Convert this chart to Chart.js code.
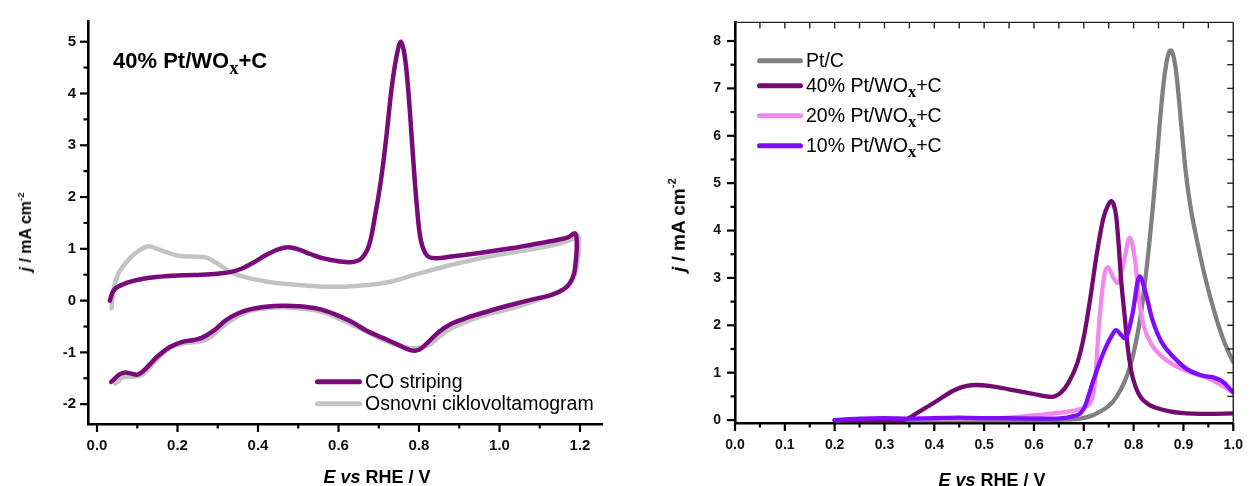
<!DOCTYPE html>
<html>
<head>
<meta charset="utf-8">
<script src="https://cdn.jsdelivr.net/npm/chart.js@4.4.1/dist/chart.umd.min.js"></script>
<style>
html,body{margin:0;padding:0;background:#fff;}
body{width:1257px;height:486px;position:relative;overflow:hidden;font-family:'Liberation Sans',Arial,sans-serif;color:#000;}
.box{position:absolute;top:0;height:486px;}
#leftBox{left:0;width:630px;}
#rightBox{left:630px;width:627px;}
.ytitle{position:absolute;font-weight:bold;white-space:nowrap;line-height:1;transform:translate(-50%,-50%) rotate(-90deg);}
.xtitle{position:absolute;font-weight:bold;font-size:18px;white-space:nowrap;line-height:1;transform:translate(-50%,-50%);}
.ytitle sup{font-size:0.6em;vertical-align:0.75em;}
.note{position:absolute;font-weight:bold;font-size:22px;white-space:nowrap;line-height:1;}
.note sub,.lg sub{font-family:'Liberation Serif',serif;font-weight:bold;font-size:0.85em;vertical-align:baseline;position:relative;top:0.3em;}
.lg{position:absolute;display:flex;align-items:center;white-space:nowrap;font-size:19.5px;line-height:1;transform:translateY(-50%);}
.sw{height:5px;border-radius:2.5px;margin-right:3px;}
</style>
</head>
<body>
<div id="leftBox" class="box"><canvas id="cLeft"></canvas></div>
<div id="rightBox" class="box"><canvas id="cRight"></canvas></div>

<div class="note" style="left:113px;top:50px;">40% Pt/WO<sub>x</sub>+C</div>

<div class="ytitle" style="left:25px;top:232px;font-size:16px;"><i>j</i> / mA cm<sup>-2</sup></div>
<div class="xtitle" style="left:377px;top:477px;"><i>E vs</i> RHE / V</div>
<div class="ytitle" style="left:677px;top:225px;font-size:19px;"><i>j</i> / mA cm<sup>-2</sup></div>
<div class="xtitle" style="left:992px;top:480px;"><i>E vs</i> RHE / V</div>

<div id="legends"></div>

<script>
// ---------------- data: left panel (CV, 40% Pt/WOx+C) ----------------
const CO_E = [0.032,0.038,0.045,0.06,0.09,0.13,0.17,0.22,0.26,0.30,0.33,0.36,0.39,0.42,0.45,0.475,0.50,0.53,0.56,0.60,0.63,0.655,0.675,0.69,0.705,0.718,0.732,0.745,0.755,0.765,0.775,0.785,0.795,0.805,0.82,0.84,0.88,0.95,1.02,1.08,1.13,1.17,1.188,1.192,1.19,1.185,1.175,1.16,1.13,1.08,1.02,0.97,0.92,0.877,0.85,0.82,0.80,0.78,0.75,0.71,0.67,0.63,0.59,0.55,0.50,0.46,0.42,0.38,0.35,0.32,0.29,0.26,0.24,0.21,0.18,0.15,0.13,0.115,0.10,0.085,0.07,0.055,0.045,0.035];
const CO_J = [0.0,0.15,0.23,0.30,0.38,0.44,0.47,0.49,0.50,0.52,0.55,0.62,0.74,0.88,0.99,1.03,0.99,0.90,0.82,0.76,0.74,0.80,1.05,1.60,2.30,3.10,4.10,4.75,5.00,4.70,3.90,2.80,1.80,1.15,0.87,0.82,0.85,0.92,1.00,1.08,1.15,1.22,1.30,1.10,0.80,0.52,0.34,0.22,0.11,0.02,-0.10,-0.21,-0.33,-0.46,-0.60,-0.82,-0.95,-0.96,-0.86,-0.72,-0.58,-0.40,-0.26,-0.16,-0.11,-0.10,-0.12,-0.17,-0.25,-0.38,-0.58,-0.72,-0.76,-0.80,-0.90,-1.08,-1.24,-1.36,-1.43,-1.41,-1.39,-1.43,-1.50,-1.57];
const CV_E = [0.036,0.04,0.045,0.055,0.074,0.09,0.107,0.127,0.15,0.174,0.206,0.24,0.273,0.29,0.31,0.34,0.38,0.42,0.47,0.52,0.57,0.62,0.67,0.72,0.76,0.80,0.86,0.92,0.98,1.04,1.10,1.15,1.18,1.195,1.197,1.193,1.185,1.165,1.13,1.083,1.03,0.97,0.92,0.877,0.85,0.82,0.785,0.753,0.71,0.67,0.63,0.587,0.55,0.50,0.46,0.42,0.38,0.35,0.32,0.29,0.27,0.245,0.22,0.19,0.174,0.15,0.13,0.115,0.107,0.09,0.074,0.06,0.052,0.045];
const CV_J = [-0.15,0.15,0.35,0.55,0.75,0.88,0.98,1.05,1.00,0.93,0.86,0.85,0.83,0.76,0.66,0.52,0.43,0.37,0.32,0.29,0.27,0.27,0.30,0.35,0.43,0.52,0.65,0.76,0.86,0.94,1.02,1.10,1.18,1.25,1.00,0.70,0.45,0.25,0.12,-0.02,-0.15,-0.27,-0.40,-0.55,-0.70,-0.87,-0.92,-0.88,-0.75,-0.60,-0.45,-0.30,-0.20,-0.15,-0.13,-0.15,-0.20,-0.30,-0.45,-0.65,-0.76,-0.80,-0.82,-0.88,-0.95,-1.12,-1.30,-1.42,-1.45,-1.47,-1.47,-1.50,-1.57,-1.60];
const LEFT_NAMES = ['CO striping','Osnovni ciklovoltamogram'];
const LEFT_COLORS = ['#7a0a7a','#c3c3c3'];
const LEFT_X_TICKS = [0.0,0.2,0.4,0.6,0.8,1.0,1.2];
const LEFT_X_MINOR = [0.1,0.3,0.5,0.7,0.9,1.1];
const LEFT_Y_TICKS = [-2,-1,0,1,2,3,4,5];
const LEFT_Y_MINOR = [-1.5,-0.5,0.5,1.5,2.5,3.5,4.5];

// ---------------- data: right panel (CO stripping comparison) ----------------
const PTC_E = [0.20,0.45,0.55,0.62,0.66,0.693,0.726,0.765,0.794,0.814,0.83,0.842,0.852,0.86,0.866,0.871,0.875,0.88,0.886,0.895,0.905,0.915,0.93,0.945,0.963,0.98,1.0];
const PTC_J = [0.0,0.0,0.0,0.0,0.01,0.03,0.14,0.48,1.17,2.20,3.58,4.90,6.20,7.10,7.55,7.76,7.80,7.68,7.30,6.30,5.20,4.45,3.65,2.95,2.25,1.70,1.22];
const W40_E = [0.20,0.30,0.336,0.37,0.40,0.44,0.465,0.485,0.51,0.55,0.60,0.635,0.654,0.67,0.687,0.70,0.712,0.726,0.739,0.748,0.755,0.76,0.765,0.77,0.775,0.782,0.788,0.795,0.804,0.815,0.83,0.845,0.87,0.895,0.95,1.0];
const W40_J = [0.0,0.0,0.0,0.18,0.37,0.63,0.72,0.74,0.72,0.65,0.55,0.49,0.58,0.80,1.20,1.75,2.50,3.50,4.25,4.52,4.62,4.55,4.30,3.70,2.95,2.20,1.55,1.05,0.70,0.47,0.33,0.26,0.19,0.15,0.13,0.14];
const W20_E = [0.20,0.30,0.40,0.50,0.55,0.60,0.65,0.68,0.70,0.72,0.732,0.742,0.749,0.758,0.768,0.781,0.792,0.803,0.811,0.82,0.837,0.869,0.908,0.947,0.973,1.0];
const W20_J = [0.0,0.02,0.03,0.04,0.05,0.10,0.15,0.20,0.26,0.59,2.20,3.10,3.22,3.03,2.89,3.37,3.85,3.37,2.55,2.00,1.58,1.24,1.03,0.90,0.76,0.58];
const W10_E = [0.20,0.25,0.30,0.35,0.40,0.45,0.50,0.55,0.60,0.635,0.674,0.70,0.72,0.739,0.755,0.765,0.773,0.783,0.797,0.812,0.824,0.837,0.856,0.882,0.908,0.941,0.96,0.98,1.0];
const W10_J = [0.0,0.03,0.04,0.03,0.04,0.05,0.04,0.04,0.03,0.03,0.07,0.24,0.86,1.41,1.76,1.90,1.82,1.72,2.20,3.03,2.69,2.14,1.65,1.31,1.07,0.93,0.90,0.80,0.58];
const RIGHT_NAMES = ['Pt/C','40% Pt/WOx+C','20% Pt/WOx+C','10% Pt/WOx+C'];
const RIGHT_COLORS = ['#808080','#720a72','#f088f0','#7f0cff'];
const RIGHT_X_TICKS = [0.0,0.1,0.2,0.3,0.4,0.5,0.6,0.7,0.8,0.9,1.0];
const RIGHT_X_MINOR = [0.05,0.15,0.25,0.35,0.45,0.55,0.65,0.75,0.85,0.95];
const RIGHT_Y_TICKS = [0,1,2,3,4,5,6,7,8];
const RIGHT_Y_MINOR = [0.5,1.5,2.5,3.5,4.5,5.5,6.5,7.5];
const RIGHT_TOP_TICKS = [0.05,0.1,0.15,0.2,0.25,0.3,0.35,0.4,0.45,0.5,0.55,0.6,0.65,0.7,0.75,0.8,0.85,0.9,0.95];
const RIGHT_SIDE_TICKS = [0.5,1,1.5,2,2.5,3,3.5,4,4.5,5,5.5,6,6.5,7,7.5,8];

const pts = (xs, ys) => xs.map((x, i) => ({x: x, y: ys[i]}));

Chart.defaults.font.family = "'Liberation Sans', Arial, sans-serif";
Chart.defaults.color = '#000';

// tick marks (major/minor, inner/outer) drawn from the chart's own scales
const tickPlugin = {
  id: 'axisTicks',
  afterDraw(chart, args, opts) {
    const ctx = chart.ctx, a = chart.chartArea;
    ctx.save();
    ctx.lineCap = 'butt';
    (opts.frame || []).forEach(f => {
      ctx.lineWidth = f.width; ctx.strokeStyle = f.color;
      ctx.beginPath();
      if (f.side === 'top') { ctx.moveTo(a.left, a.top); ctx.lineTo(a.right, a.top); }
      if (f.side === 'right') { ctx.moveTo(a.right, a.top); ctx.lineTo(a.right, a.bottom); }
      ctx.stroke();
    });
    (opts.marks || []).forEach(m => {
      const sc = chart.scales[m.scale];
      ctx.lineWidth = m.width; ctx.strokeStyle = m.color || '#000';
      m.values.forEach(v => {
        const p = sc.getPixelForValue(v);
        ctx.beginPath();
        if (m.side === 'left') { ctx.moveTo(a.left, p); ctx.lineTo(a.left - m.len, p); }
        if (m.side === 'right') { ctx.moveTo(a.right, p); ctx.lineTo(a.right - m.len, p); }
        if (m.side === 'bottom') { ctx.moveTo(p, a.bottom); ctx.lineTo(p, a.bottom + m.len); }
        if (m.side === 'top') { ctx.moveTo(p, a.top); ctx.lineTo(p, a.top + m.len); }
        ctx.stroke();
      });
    });
    ctx.restore();
  }
};

function lineDs(label, data, color, extra) {
  return Object.assign({
    label: label, data: data, showLine: true, borderColor: color, backgroundColor: color,
    borderWidth: 4.5, pointRadius: 0, pointHoverRadius: 0, fill: false,
    borderJoinStyle: 'round', borderCapStyle: 'round'
  }, extra || {});
}

// ---------------- left chart ----------------
new Chart(document.getElementById('cLeft'), {
  type: 'scatter',
  data: {
    datasets: [
      lineDs(LEFT_NAMES[0], pts(CO_E, CO_J), LEFT_COLORS[0], {tension: 0.35}),
      lineDs(LEFT_NAMES[1], pts(CV_E, CV_J), LEFT_COLORS[1], {tension: 0.35})
    ]
  },
  options: {
    responsive: true, maintainAspectRatio: false, animation: false,
    layout: {padding: {left: 0, top: 17, right: 28, bottom: 0}},
    plugins: {
      legend: {display: false}, tooltip: {enabled: false},
      axisTicks: {
        marks: [
          {scale: 'y', side: 'left', values: LEFT_Y_TICKS, len: 8, width: 2.2},
          {scale: 'y', side: 'left', values: LEFT_Y_MINOR, len: 4.5, width: 2.2},
          {scale: 'x', side: 'bottom', values: LEFT_X_TICKS, len: 8, width: 2.2},
          {scale: 'x', side: 'bottom', values: LEFT_X_MINOR, len: 4.5, width: 2.2}
        ]
      }
    },
    scales: {
      x: {
        type: 'linear', min: -0.0224, max: 1.2547,
        grid: {display: false, drawTicks: false},
        border: {display: true, color: '#000', width: 2.6},
        afterBuildTicks: s => { s.ticks = LEFT_X_TICKS.map(v => ({value: v})); },
        afterFit: s => { s.height = 62; },
        ticks: {autoSkip: false, maxRotation: 0, padding: 13, font: {size: 15, weight: 'bold'}, color: '#111',
                callback: v => Number(v).toFixed(1)}
      },
      y: {
        type: 'linear', min: -2.383, max: 5.40,
        grid: {display: false, drawTicks: false},
        border: {display: true, color: '#000', width: 2.6},
        afterBuildTicks: s => { s.ticks = LEFT_Y_TICKS.map(v => ({value: v})); },
        afterFit: s => { s.width = 88; },
        ticks: {padding: 12, font: {size: 15, weight: 'bold'}, color: '#111', callback: v => String(v)}
      }
    }
  },
  plugins: [tickPlugin]
});

// ---------------- right chart ----------------
new Chart(document.getElementById('cRight'), {
  type: 'scatter',
  data: {
    datasets: [
      lineDs(RIGHT_NAMES[0], pts(PTC_E, PTC_J), RIGHT_COLORS[0], {cubicInterpolationMode: 'monotone', order: 4, borderWidth: 4.3}),
      lineDs(RIGHT_NAMES[1], pts(W40_E, W40_J), RIGHT_COLORS[1], {cubicInterpolationMode: 'monotone', order: 2, borderWidth: 4.3}),
      lineDs(RIGHT_NAMES[2], pts(W20_E, W20_J), RIGHT_COLORS[2], {cubicInterpolationMode: 'monotone', order: 3, borderWidth: 4.3}),
      lineDs(RIGHT_NAMES[3], pts(W10_E, W10_J), RIGHT_COLORS[3], {cubicInterpolationMode: 'monotone', order: 1, borderWidth: 4.3})
    ]
  },
  options: {
    responsive: true, maintainAspectRatio: false, animation: false,
    layout: {padding: {left: 0, top: 14, right: 10, bottom: 0}},
    plugins: {
      legend: {display: false}, tooltip: {enabled: false},
      axisTicks: {
        frame: [
          {side: 'top', width: 1.4, color: '#222'},
          {side: 'right', width: 1.4, color: '#222'}
        ],
        marks: [
          {scale: 'y', side: 'left', values: RIGHT_Y_TICKS, len: 8, width: 2.2},
          {scale: 'y', side: 'left', values: RIGHT_Y_MINOR, len: 4.5, width: 2.2},
          {scale: 'x', side: 'bottom', values: RIGHT_X_TICKS, len: 8, width: 2.2},
          {scale: 'x', side: 'bottom', values: RIGHT_X_MINOR, len: 4.5, width: 2.2},
          {scale: 'x', side: 'top', values: RIGHT_TOP_TICKS, len: 6, width: 1.4, color: '#222'},
          {scale: 'y', side: 'right', values: RIGHT_SIDE_TICKS, len: 6, width: 1.4, color: '#222'}
        ]
      }
    },
    scales: {
      x: {
        type: 'linear', min: 0, max: 1.0,
        grid: {display: false, drawTicks: false},
        border: {display: true, color: '#000', width: 2.6},
        afterBuildTicks: s => { s.ticks = RIGHT_X_TICKS.map(v => ({value: v})); },
        afterFit: s => { s.height = 63; },
        ticks: {autoSkip: false, maxRotation: 0, padding: 14, font: {size: 14, weight: 'bold'}, color: '#111',
                callback: v => Number(v).toFixed(1)}
      },
      y: {
        type: 'linear', min: -0.062, max: 8.393,
        grid: {display: false, drawTicks: false},
        border: {display: true, color: '#000', width: 2.6},
        afterBuildTicks: s => { s.ticks = RIGHT_Y_TICKS.map(v => ({value: v})); },
        afterFit: s => { s.width = 105; },
        ticks: {padding: 14, font: {size: 14, weight: 'bold'}, color: '#111', callback: v => String(v)}
      }
    }
  },
  plugins: [tickPlugin]
});

// ---------------- legends (HTML, built from the series names/colours) ----------------
const fmt = s => '<span>' + s.replace('WOx', 'WO<sub>x</sub>') + '</span>';
const LEFT_LEGEND_Y = [382, 404];
const RIGHT_LEGEND_Y = [61, 86, 116, 146];
let html = '';
LEFT_NAMES.forEach((n, i) => {
  html += `<div class="lg" style="left:315px;top:${LEFT_LEGEND_Y[i]}px;"><span class="sw" style="width:47px;background:${LEFT_COLORS[i]}"></span>${fmt(n)}</div>`;
});
RIGHT_NAMES.forEach((n, i) => {
  html += `<div class="lg" style="left:757px;top:${RIGHT_LEGEND_Y[i]}px;"><span class="sw" style="width:46px;background:${RIGHT_COLORS[i]}"></span>${fmt(n)}</div>`;
});
document.getElementById('legends').innerHTML = html;
</script>
</body>
</html>
